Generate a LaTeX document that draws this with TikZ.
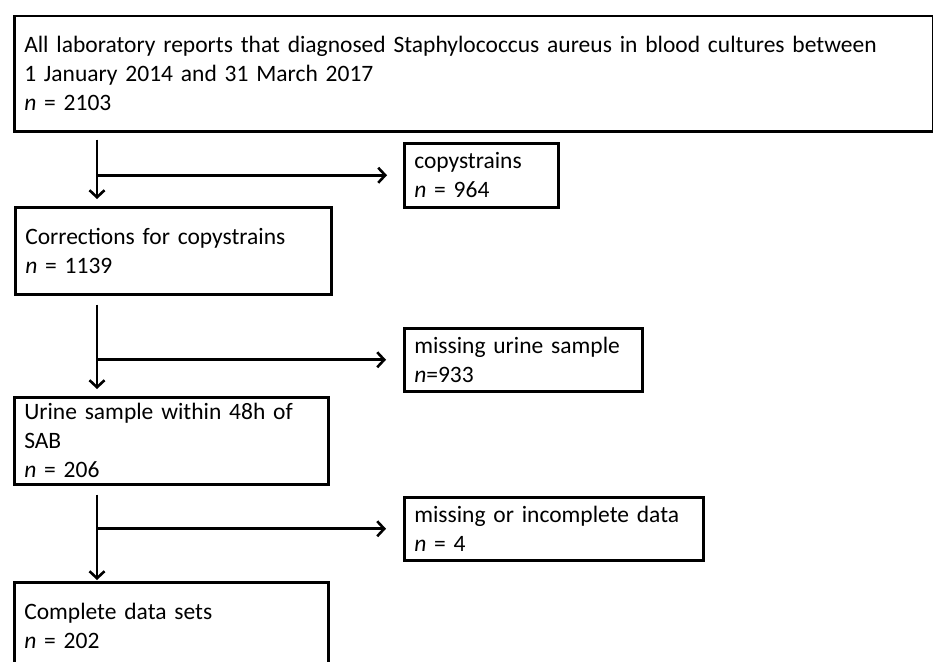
\documentclass[tikz,border=0pt]{standalone}
\usepackage{fontspec}
\setmainfont{Carlito}
\usetikzlibrary{arrows.meta,calc}
\begin{document}
\begin{tikzpicture}[x=1pt,y=-1pt,
  box/.style={draw, line width=2.5pt, rectangle, anchor=north west,
    inner xsep=10pt, inner ysep=0pt, align=left,
    font=\fontsize{23.5}{29}\selectfont},
  arr/.style={line width=2.6pt, -{Straight Barb[length=7pt,width=15pt,line width=2.6pt]}}]
\useasboundingbox (0,0) rectangle (933,661);
\node[box, minimum width=919pt, minimum height=115pt, text width=899pt] (top) at (13,15)
  {All laboratory reports that diagnosed Staphylococcus aureus in blood cultures between\\1 January 2014 and 31 March 2017\\\textit{n} = 2103};
\node[box, minimum width=154pt, minimum height=64pt, text width=134pt] (copy) at (403,142)
  {copystrains\\\textit{n} = 964};
\node[box, minimum width=316pt, minimum height=87pt, text width=296pt] (corr) at (14,206)
  {Corrections for copystrains\\\textit{n} = 1139};
\node[box, minimum width=238pt, minimum height=63pt, text width=218pt] (miss1) at (403,327)
  {missing urine sample\\\textit{n}=933};
\node[box, minimum width=314pt, minimum height=87pt, text width=294pt] (urine) at (13,396)
  {Urine sample within 48h of\\SAB\\\textit{n} = 206};
\node[box, minimum width=299pt, minimum height=63pt, text width=279pt] (miss2) at (403,496)
  {missing or incomplete data\\\textit{n} = 4};
\node[box, minimum width=314pt, minimum height=87pt, text width=294pt] (compl) at (13,581)
  {Complete data sets\\\textit{n} = 202};
\coordinate (xa) at (97,0);
% first step
\draw[arr] ($(top.south -| xa)+(0,7)$) -- ($(corr.north -| xa)+(0,-7)$);
\draw[arr] (copy.west -| xa) -- ($(copy.west)+(-16,0)$);
% second step
\draw[arr] ($(corr.south -| xa)+(0,9)$) -- ($(urine.north -| xa)+(0,-7)$);
\draw[arr] (miss1.west -| xa) -- ($(miss1.west)+(-17,0)$);
% third step
\draw[arr] ($(urine.south -| xa)+(0,9)$) -- ($(compl.north -| xa)+(0,-1)$);
\draw[arr] (miss2.west -| xa) -- ($(miss2.west)+(-17,0)$);
\end{tikzpicture}
\end{document}
